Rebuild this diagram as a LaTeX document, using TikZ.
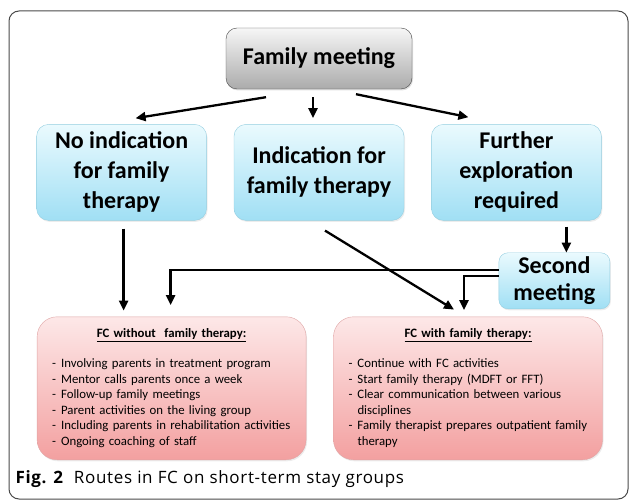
\documentclass[tikz,border=0pt]{standalone}
\usepackage{fontspec}
\setmainfont{Carlito}
\newfontfamily\capfont{Open Sans}[LetterSpace=4]
\usetikzlibrary{positioning,arrows.meta,shadows}

\definecolor{skytop}{HTML}{EAFAFE}
\definecolor{skybot}{HTML}{A0DFF4}
\definecolor{skyrim}{HTML}{95CEE0}
\definecolor{rosetop}{HTML}{FDE8E8}
\definecolor{rosebot}{HTML}{F3A0A0}
\definecolor{roserim}{HTML}{DFA5A5}
\definecolor{greytop}{HTML}{F6F6F6}
\definecolor{greybot}{HTML}{ABABAB}
\definecolor{greyrim}{HTML}{4A4A4A}

\newcommand\dashitem{\par\hangindent=9pt\hangafter=1\noindent\makebox[9pt][l]{-}}

\tikzset{
  route/.style={line width=2.3pt, -{Triangle[length=10pt,width=9pt]}},
  meeting/.style={draw=greyrim, top color=greytop, bottom color=greybot,
    rounded corners=11pt, minimum width=186pt, minimum height=61pt,
    font=\fontsize{24}{30}\selectfont\bfseries,
    drop shadow={opacity=0.25, shadow xshift=1pt, shadow yshift=-1.5pt}},
  choice/.style={draw=skyrim, top color=skytop, bottom color=skybot,
    rounded corners=12pt, minimum width=170pt, minimum height=96pt, align=center,
    font=\fontsize{24}{30}\selectfont\bfseries,
    drop shadow={opacity=0.15, shadow xshift=1pt, shadow yshift=-1.5pt}},
  second/.style={choice, rounded corners=9pt, minimum width=111pt, minimum height=56pt,
    font=\fontsize{24}{27}\selectfont\bfseries},
  plan/.style={draw=roserim, top color=rosetop, bottom color=rosebot,
    rounded corners=20pt, minimum height=143pt, text width=239pt, inner xsep=15pt,
    align=left, font=\fontsize{12.8}{15.6}\selectfont,
    drop shadow={opacity=0.15, shadow xshift=1pt, shadow yshift=-1.5pt}},
}

\begin{document}
\begin{tikzpicture}[x=1pt, y=-1pt]
  \useasboundingbox (0,0) rectangle (630,500);
  \draw [greyrim, line width=1pt, rounded corners=10pt] (9,11) rectangle (628,499);

  \node [meeting] (fm) at (319,58.5) {Family meeting};
  \node [choice, below=35pt of fm] (ft) {Indication for\\family therapy};
  \node [choice, left=27pt of ft] (nf) {No indication\\for family\\therapy};
  \node [choice, right=27pt of ft] (fe) {Further\\exploration\\required};
  \node [second, below=32pt of fe, xshift=38pt] (sm) {Second\\meeting};

  \node [plan, below=96pt of nf, xshift=50pt] (wo) {%
    {\centering\textbf{\underline{FC without\ \ family therapy:}}\par}
    \vspace{14pt}
    \dashitem Involving parents in treatment program
    \dashitem Mentor calls parents once a week
    \dashitem Follow-up family meetings
    \dashitem Parent activities on the living group
    \dashitem Including parents in rehabilitation activities
    \dashitem Ongoing coaching of staff\par};
  \node [plan, right=27pt of wo] (wi) {%
    {\centering\textbf{\underline{FC with family therapy:}}\par}
    \vspace{14pt}
    \dashitem Continue with FC activities
    \dashitem Start family therapy (MDFT or FFT)
    \dashitem Clear communication between various\newline disciplines
    \dashitem Family therapist prepares outpatient family\newline therapy\par};

  \node [anchor=base west, font=\capfont\fontsize{17}{20}\selectfont] (cap) at (12,483)
    {\textbf{Fig. 2}\ \ Routes in FC on short-term stay groups};

  \draw [route] ([xshift=-53pt,yshift=-8pt]fm.south) -- ([xshift=14pt,yshift=6pt]nf.north);
  \draw [route] ([xshift=-6pt,yshift=-8pt]fm.south) -- ([xshift=-6pt,yshift=6pt]ft.north);
  \draw [route] ([xshift=37pt,yshift=-5pt]fm.south) -- ([xshift=-48pt,yshift=7pt]fe.north);
  \draw [route] ([xshift=2pt,yshift=-8pt]nf.south) -- ([xshift=-48pt,yshift=6pt]wo.north);
  \draw [route] ([xshift=6pt,yshift=-10pt]ft.south) -- ([xshift=-14pt,yshift=7pt]wi.north);
  \draw [route] ([xshift=50pt,yshift=-6pt]fe.south) -- ([xshift=12pt]sm.north);
  \draw [route] ([yshift=11pt]sm.west) -| ([xshift=-1pt,yshift=11.5pt]wo.north);
  \draw [route] ([yshift=5pt]sm.west) -| ([xshift=-4pt,yshift=6.5pt]wi.north);
\end{tikzpicture}
\end{document}
